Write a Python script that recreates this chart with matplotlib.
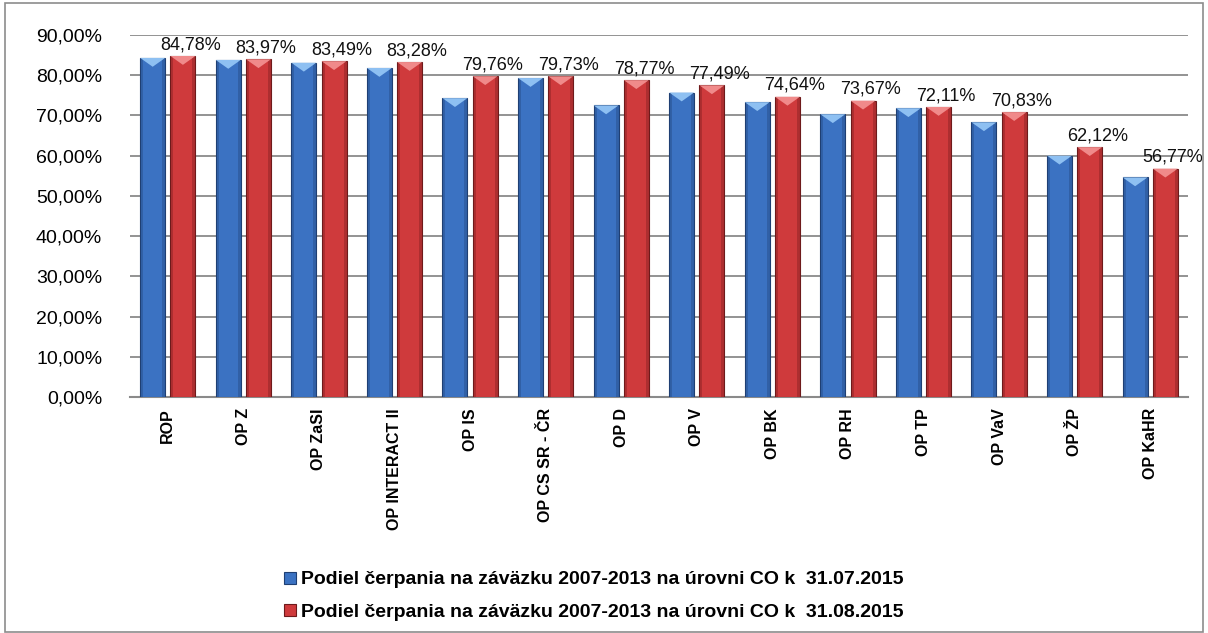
import matplotlib.pyplot as plt
import numpy as np
from matplotlib.patches import Polygon, Rectangle
from matplotlib.lines import Line2D

plt.rcParams['font.family'] = ['Liberation Sans', 'DejaVu Sans']

categories = ['ROP', 'OP Z', 'OP ZaSI', 'OP INTERACT II', 'OP IS', 'OP CS SR - ČR',
              'OP D', 'OP V', 'OP BK', 'OP RH', 'OP TP', 'OP VaV', 'OP ŽP', 'OP KaHR']
share_jul = [84.3, 83.8, 83.1, 81.8, 74.3, 79.3, 72.5, 75.7, 73.3, 70.3, 71.8, 68.3, 60.0, 54.6]
share_aug = [84.78, 83.97, 83.49, 83.28, 79.76, 79.73, 78.77, 77.49, 74.64, 73.67, 72.11, 70.83, 62.12, 56.77]
legend_labels = ['Podiel čerpania na záväzku 2007-2013 na úrovni CO k  31.07.2015',
                 'Podiel čerpania na záväzku 2007-2013 na úrovni CO k  31.08.2015']
yticks = np.arange(0, 100, 10)


def pct(v):
    return f'{v:.2f}'.replace('.', ',') + '%'


fig = plt.figure(figsize=(12.08, 6.33), dpi=100)
ax = fig.add_axes([130 / 1208, 1 - 397 / 633, (1188 - 130) / 1208, (397 - 35) / 633])

# figure frame
fig.patches.append(Rectangle((0.004, 0.002), 0.992, 0.994, transform=fig.transFigure,
                             fill=False, edgecolor='#8c8c8c', linewidth=1.2))

x = np.arange(len(categories))
w = 0.33
off = 0.2
series = [(share_jul, -off, '#3b72c2', '#1f3f73', '#8ec0f2'),
          (share_aug, off, '#cf3a3c', '#6e1a1b', '#f08a8a')]

for vals, dx, face, edge, light in series:
    bars = ax.bar(x + dx, vals, width=w, color=face, edgecolor=edge, linewidth=0.8, zorder=3)
    for b, v in zip(bars, vals):
        x0 = b.get_x()
        bw = b.get_width()
        # darker side strips for a bevelled look
        ax.add_patch(Rectangle((x0, 0), bw * 0.12, v, color=edge, alpha=0.35, lw=0, zorder=4))
        ax.add_patch(Rectangle((x0 + bw * 0.88, 0), bw * 0.12, v, color=edge, alpha=0.35, lw=0, zorder=4))
        tri = Polygon([(x0, v), (x0 + bw, v), (x0 + bw / 2, v - 2.2)], closed=True,
                      facecolor=light, edgecolor='none', zorder=5)
        ax.add_patch(tri)

for xi, v in zip(x, share_aug):
    ax.text(xi + off + 0.1, v + 0.7, pct(v), ha='center', va='bottom', fontsize=13,
            color='#111111', zorder=6)

ax.set_ylim(0, 90)
ax.set_xlim(-0.5, len(categories) - 0.5)
ax.set_yticks(yticks)
ax.set_yticklabels([pct(t) for t in yticks], fontsize=14)
ax.yaxis.grid(True, color='#8a8a8a', linewidth=1.3, zorder=0)
ax.set_axisbelow(True)
ax.set_xticks(x)
ax.set_xticklabels(categories, rotation=90, fontsize=11.5, fontweight='bold', va='top')
ax.tick_params(axis='x', length=0, pad=8)
ax.tick_params(axis='y', length=0, pad=20)
for s in ['top', 'right', 'left']:
    ax.spines[s].set_visible(False)
ax.spines['bottom'].set_color('#8a8a8a')
ax.spines['bottom'].set_linewidth(1.5)

handles = [Line2D([], [], marker='s', linestyle='none', markersize=9,
                  markerfacecolor=c, markeredgecolor=e, markeredgewidth=0.8)
           for c, e in [('#3b72c2', '#1f3f73'), ('#cf3a3c', '#6e1a1b')]]
fig.legend(handles, legend_labels, loc='center', bbox_to_anchor=(0.49, 0.059),
           ncol=1, frameon=False, prop={'weight': 'bold', 'size': 14},
           handletextpad=0.1, labelspacing=0.75, handlelength=1.0)

fig.savefig('out.png', dpi=100)
